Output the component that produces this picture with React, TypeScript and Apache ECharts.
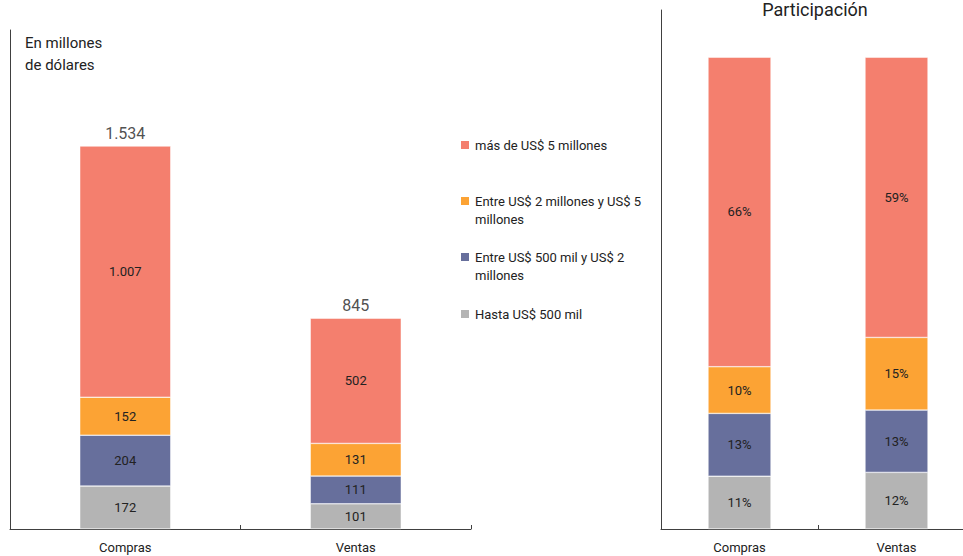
import React, { useEffect, useRef } from "react";
import * as echarts from "echarts";

const categories = ["Compras", "Ventas"];
const seriesNames = [
  "Hasta US$ 500 mil",
  "Entre US$ 500 mil y US$ 2 millones",
  "Entre US$ 2 millones y US$ 5 millones",
  "más de US$ 5 millones",
];
// Montos (millones de US$)
const hasta500 = [172, 101];
const entre500y2 = [204, 111];
const entre2y5 = [152, 131];
const masDe5 = [1007, 502];
const totals = [1534, 845];
// Participación (%)
const shareHasta500 = [11.2, 12.0];
const shareEntre500y2 = [13.3, 13.2];
const shareEntre2y5 = [9.9, 15.4];
const shareMasDe5 = [65.6, 59.4];
const colors = ["#B4B4B4", "#676F9C", "#FCA334", "#F47F6E"];

const FONT = "Roboto, 'Noto Sans', sans-serif";

function fmt(v: number): string {
  return String(Math.round(v)).replace(/\B(?=(\d{3})+(?!\d))/g, ".");
}

export default function App() {
  const ref = useRef<HTMLDivElement>(null);
  useEffect(() => {
    if (!ref.current) return;
    const chart = echarts.init(ref.current, undefined, { renderer: "svg" });
    const amounts = [hasta500, entre500y2, entre2y5, masDe5];
    const shares = [shareHasta500, shareEntre500y2, shareEntre2y5, shareMasDe5];

    const axisLine = { show: true, lineStyle: { color: "#404040", width: 1 } };
    const labelStyle = { color: "#222", fontSize: 13, fontFamily: FONT };

    const leftSeries = amounts.map((a, k) => ({
      name: seriesNames[k],
      type: "bar",
      stack: "montos",
      xAxisIndex: 0,
      yAxisIndex: 0,
      barWidth: 91,
      data: a,
      itemStyle: { color: colors[k], borderColor: "#ffffff", borderWidth: 0.5 },
      label: {
        show: true,
        position: "inside",
        ...labelStyle,
        formatter: (p: any) => fmt(p.value),
      },
    }));
    const rightSeries = shares.map((a, k) => ({
      name: seriesNames[k],
      type: "bar",
      stack: "part",
      xAxisIndex: 1,
      yAxisIndex: 1,
      barWidth: 63,
      data: a,
      itemStyle: { color: colors[k], borderColor: "#ffffff", borderWidth: 0.5 },
      label: {
        show: true,
        position: "inside",
        ...labelStyle,
        formatter: (p: any) => Math.round(p.value) + "%",
      },
    }));

    const legendTops = [136, 174, 230, 305];
    const legendOrder = [3, 2, 1, 0];
    const legendLabels: Record<string, string> = {
      "Entre US$ 2 millones y US$ 5 millones": "\nEntre US$ 2 millones y US$ 5\nmillones",
      "Entre US$ 500 mil y US$ 2 millones": "\nEntre US$ 500 mil y US$ 2\nmillones",
    };
    const legends = legendOrder.map((k, j) => {
      const name = seriesNames[k];
      return {
        show: true,
        orient: "vertical",
        left: 459,
        top: legendTops[j],
        padding: 0,
        itemWidth: 10,
        itemHeight: 10,
        itemGap: 0,
        icon: "rect",
        selectedMode: false,
        textStyle: {
          color: "#222",
          fontSize: 13,
          fontFamily: FONT,
          lineHeight: 18,
        },
        data: [{ name, itemStyle: { color: colors[k] } }],
        formatter: (n: string) => legendLabels[n] || n,
      };
    });

    chart.setOption({
      animation: false,
      grid: [
        { left: 10, top: 30, width: 461, height: 499, outerBoundsMode: "none" },
        { left: 661, top: 10, width: 314, height: 519, outerBoundsMode: "none" },
      ],
      legend: legends,
      xAxis: [0, 1].map((g) => ({
        type: "category",
        gridIndex: g,
        data: categories,
        axisLine,
        axisTick: { show: true, inside: true, length: 4, lineStyle: { color: "#404040" } },
        axisLabel: { color: "#222", fontSize: 13, fontFamily: FONT, margin: 12 },
      })),
      yAxis: [
        {
          type: "value",
          gridIndex: 0,
          min: 0,
          max: 2000,
          axisLine,
          axisTick: { show: false },
          axisLabel: { show: false },
          splitLine: { show: false },
        },
        {
          type: "value",
          gridIndex: 1,
          min: 0,
          max: 110,
          axisLine,
          axisTick: { show: false },
          axisLabel: { show: false },
          splitLine: { show: false },
        },
      ],
      series: [
        ...leftSeries,
        ...rightSeries,
        {
          name: "Total",
          type: "scatter",
          xAxisIndex: 0,
          yAxisIndex: 0,
          symbolSize: 0,
          data: totals,
          silent: true,
          label: {
            show: true,
            position: "top",
            distance: 5,
            color: "#222",
            fontSize: 16,
            fontFamily: FONT,
            formatter: (p: any) => fmt(p.value),
          },
        },
      ],
      graphic: [
        {
          type: "text",
          left: 25,
          top: 32,
          style: {
            text: "En millones\nde dólares",
            font: `15px ${FONT}`,
            lineHeight: 22,
            fill: "#222",
          },
        },
        {
          type: "text",
          x: 815,
          y: 9,
          style: {
            text: "Participación",
            font: `18px ${FONT}`,
            align: "center",
            verticalAlign: "middle",
            fill: "#222",
          },
        },
      ],
    });
    return () => chart.dispose();
  }, []);
  return (
    <div
      ref={ref}
      style={{ position: "fixed", left: 0, top: 0, width: 963, height: 556, background: "#fff" }}
    />
  );
}
